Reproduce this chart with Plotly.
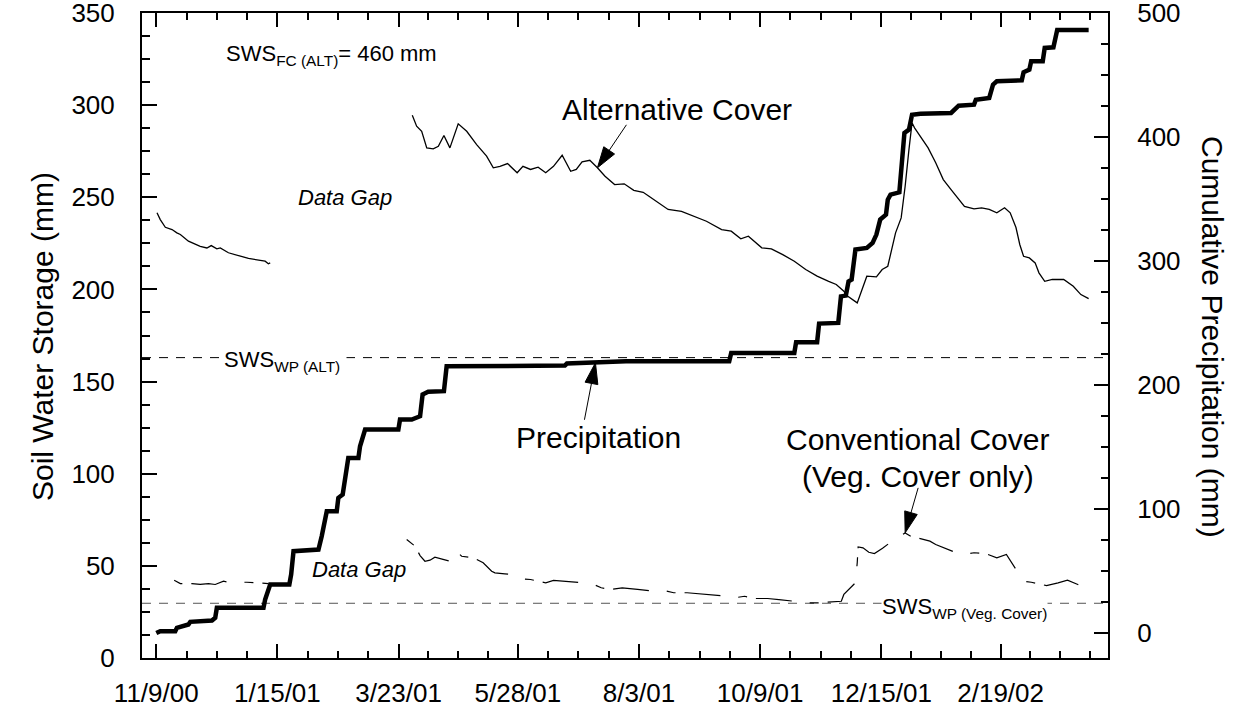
import math
import pandas as pd
import plotly.graph_objects as go

BASE = pd.Timestamp("2000-11-09")

# ---------------- data (days since 11/9/00) ----------------
alt_days = [0.4, 2.2, 5.0, 6.8, 8.7, 11.4, 13.3, 17.8, 22.5, 24.3, 28.0, 30.4, 33.5, 35.4, 39.9, 46.4, 51.0,
            57.5, 60.2, 62.0, 63.0, None,
            141.6, 144.0, 146.8, 149.6, 153.2, 156.0, 159.1, 162.4, 167.0, 171.7, 177.2, 182.7, 186.4, 190.1,
            194.3, 199.6, 202.8, 207.0, 211.2, 215.4, 219.7, 224.5, 229.2, 232.3, 235.5, 239.8, 244.0, 248.2,
            253.5, 258.8, 264.1, 269.3, 272.5, 276.7, 283.1, 290.5, 297.9, 304.3, 312.7, 318.0, 323.3, 327.5,
            334.9, 340.2, 346.5, 352.9, 359.2, 365.5, 371.9, 376.1, 380.3, 382.5, 387.7, 390.9, 393.0, 398.3,
            401.5, 404.6, 406.8, 408.9, 412.0, 414.2, 416.3, 418.0, 419.4, 422.7, 426.9, 431.1, 435.3, 439.6,
            443.8, 447.0, 452.3, 456.5, 460.7, 464.9, 469.2, 472.3, 475.5, 477.6, 479.7, 482.9, 486.1, 488.2,
            491.4, 495.6, 501.9, 507.2, 511.4, 515.7]
alt_sws = [241.6, 237.9, 233.7, 232.9, 232.5, 230.7, 229.8, 226.2, 224.4, 223.4, 222.5, 223.8, 222.0, 222.5,
           219.9, 218.0, 216.8, 215.8, 215.3, 213.9, 214.4, None,
           294.5, 288.6, 285.8, 276.8, 276.3, 277.7, 283.5, 276.8, 289.9, 285.8, 278.6, 272.3, 266.0, 266.8,
           268.3, 263.3, 266.8, 265.1, 266.3, 263.3, 266.8, 272.8, 264.1, 265.1, 269.2, 270.1, 266.0, 261.4,
           256.9, 257.3, 253.8, 252.7, 250.6, 247.9, 243.4, 242.4, 239.7, 237.0, 232.5, 231.6, 227.5, 228.9,
           222.6, 222.0, 218.9, 215.3, 210.8, 207.2, 204.4, 202.7, 199.0, 196.3, 192.7, 201.7, 207.2, 206.8,
           210.8, 212.6, 221.6, 230.7, 238.8, 256.0, 275.9, 290.4, 287.7, 283.1, 276.8, 268.7, 259.6, 254.2,
           248.8, 245.1, 243.7, 244.3, 243.4, 241.6, 244.3, 241.6, 233.6, 224.4, 218.0, 217.1, 214.4, 209.0,
           204.4, 205.4, 205.4, 201.7, 197.2, 195.0]

conv_days = [9.9, 13.3, 19.7, 24.3, 28.9, 32.6, 37.2, 39.9, 50.1, 62.0, None,
             138.5, 143.1, 145.9, 148.6, 151.4, 154.1, 158.6, 162.4, 166.1, 168.9, 175.3, 180.8, 185.5, 187.3,
             192.8, 197.5, 201.7, 207.0, 211.2, 215.4, 219.7, 226.0, 236.6, 241.9, 246.1, 251.4, 257.7, 266.2,
             275.7, 281.0, 286.2, 293.6, 305.3, 315.9, 320.1, 325.4, 330.7, 338.1, 344.4, 356.0, 361.3, 365.5,
             374.0, 378.9, 380.3, 383.4, 386.7, 387.7, 388.2, 390.9, 394.1, 397.2, 401.7, 405.7, 407.8, 409.9,
             414.2, 417.3, 422.7, 427.9, 431.1, 436.5, 441.7, 447.0, 452.3, 458.6, 464.9, 470.2, 473.5, 476.6,
             479.7, 484.0, 492.4, 498.8, 504.0, 509.4, 514.6, 515.7]
conv_sws = [42.2, 40.4, 40.4, 39.9, 40.4, 39.9, 41.7, 41.1, 41.1, 40.4, None,
            64.3, 60.7, 55.6, 52.5, 53.1, 54.7, 53.5, 52.5, 57.9, 55.2, 54.4, 51.7, 47.1, 46.2,
            45.7, 45.3, 43.0, 42.6, 41.7, 40.8, 42.1, 41.7, 40.8, 39.9, 38.1, 37.2, 38.1, 37.2,
            36.2, 36.6, 35.4, 35.4, 34.5, 33.5, 32.7, 33.5, 32.3, 32.3, 31.7, 30.3, 29.9, 29.9,
            30.3, 30.8, 34.5, 37.5, 40.8, 51.7, 60.3, 59.8, 57.4, 56.7, 59.5, 62.5, 64.3, 65.2,
            67.9, 66.1, 64.7, 63.4, 61.6, 59.5, 57.4, 56.2, 57.1, 56.7, 54.4, 56.2, 51.0, 46.2,
            41.7, 41.1, 39.3, 40.8, 42.2, 40.0, 38.1, 37.5]

precip_days = [0, 2.2, 10.5, 11.4, 17.8, 18.8, 30.8, 32.6, 33.5, 59.3, 60.2, 63.0, 73.6, 74.6, 75.9, 89.7,
               91.5, 94.3, 99.8, 100.7, 103.1, 105.4, 106.2, 111.8, 112.7, 115.5, 133.9, 134.8, 141.3, 145.9,
               147.3, 150.4, 159.1, 160.6, 198.5, 226.0, 227.1, 245.0, 259.8, 316.9, 318.0, 352.9, 353.9,
               365.5, 366.6, 377.2, 378.7, 381.4, 382.9, 384.6, 386.7, 393.0, 396.2, 398.3, 400.4, 403.6,
               404.6, 406.1, 411.0, 413.8, 416.3, 418.0, 422.7, 439.6, 441.7, 443.8, 452.3, 453.3, 460.7,
               462.8, 464.9, 478.7, 479.7, 482.9, 483.9, 490.3, 491.4, 496.2, 498.3, 515.7]
precip_mm = [0, 1.5, 1.5, 4.2, 6.9, 9.0, 10.1, 12.3, 20.3, 20.3, 27.0, 39.1, 39.1, 47.2, 66.0, 67.3,
             78.0, 98.2, 98.2, 109.0, 111.7, 131.8, 141.2, 141.2, 150.6, 164.1, 164.1, 172.1, 172.1, 174.8,
             192.3, 194.5, 195.0, 215.1, 215.1, 215.7, 217.3, 218.3, 219.1, 219.1, 225.9, 225.9, 234.5,
             234.5, 249.5, 250.1, 271.5, 272.1, 283.6, 285.0, 309.2, 310.5, 314.6, 321.3, 333.4, 337.4,
             349.5, 353.5, 355.4, 403.3, 405.9, 418.0, 418.8, 419.4, 422.6, 425.3, 426.1, 430.1, 431.5,
             442.2, 444.9, 445.7, 452.2, 454.3, 461.0, 461.0, 471.8, 472.3, 486.3, 486.3]

sws_wp_alt = 163.0
sws_wp_veg = 29.7

tick_labels = ["11/9/00", "1/15/01", "3/23/01", "5/28/01", "8/3/01", "10/9/01", "12/15/01", "2/19/02"]

# ---------------- helpers ----------------
def day_str(d):
    return (BASE + pd.Timedelta(days=d)).strftime("%Y-%m-%d %H:%M")

def to_dates(days):
    return [None if d is None else day_str(d) for d in days]

tick_dates = pd.to_datetime(tick_labels, format="%m/%d/%y")
minor_vals = []
for a, b in zip(tick_dates[:-1], tick_dates[1:]):
    for k in (1, 2, 3):
        minor_vals.append(a + (b - a) * k / 4)
step = (tick_dates[-1] - tick_dates[-2]) / 4
for k in (1, 2, 3):
    minor_vals.append(tick_dates[-1] + step * k)

FONT = "Liberation Sans, Arial, Helvetica, sans-serif"

L, R, T, B = 142, 138, 13, 54
W, H = 1246, 712
PW, PH = W - L - R, H - T - B

def px(x):
    return (x - L) / PW

def py(y):
    return (H - B - y) / PH

fig = go.Figure()

fig.add_trace(go.Scatter(x=to_dates(alt_days), y=alt_sws, mode="lines",
                         line=dict(color="black", width=1.3), connectgaps=False, name="Alternative Cover"))
fig.add_trace(go.Scatter(x=to_dates(conv_days), y=conv_sws, mode="lines",
                         line=dict(color="black", width=1.2, dash="9px,9px,36px,18px"),
                         connectgaps=False, name="Conventional Cover"))
fig.add_trace(go.Scatter(x=to_dates(precip_days), y=precip_mm, mode="lines", yaxis="y2",
                         line=dict(color="black", width=4.5), name="Precipitation"))

fig.add_shape(type="line", xref="paper", x0=0, x1=1, yref="y", y0=sws_wp_alt, y1=sws_wp_alt,
              line=dict(color="black", width=1, dash="9px,8px"), layer="below")
fig.add_shape(type="line", xref="paper", x0=0, x1=1, yref="y", y0=sws_wp_veg, y1=sws_wp_veg,
              line=dict(color="#555555", width=1, dash="9px,8px"), layer="below")

x_start = BASE - pd.Timedelta(days=7.9)
x_end = BASE + pd.Timedelta(days=526.4)

axis_common = dict(showline=True, linewidth=2, linecolor="black", showgrid=False, zeroline=False,
                   ticks="inside", tickwidth=2, tickcolor="black", tickfont=dict(size=26, family=FONT),
                   automargin=False, ticklabeloverflow="allow")

fig.update_layout(
    width=W, height=H, margin=dict(l=L, r=R, t=T, b=B, autoexpand=False),
    paper_bgcolor="white", plot_bgcolor="white", showlegend=False,
    font=dict(family=FONT, color="black", size=26),
    xaxis=dict(type="date", range=[x_start, x_end], tickmode="array", tickvals=list(tick_dates),
               ticktext=tick_labels, ticklen=14, mirror="ticks", ticklabelstandoff=11,
               minor=dict(tickmode="array", tickvals=minor_vals, ticks="inside", ticklen=7,
                          tickwidth=2, tickcolor="black"),
               **axis_common),
    yaxis=dict(range=[0, 350], tick0=0, dtick=50, ticklen=15, ticklabelstandoff=20,
               minor=dict(tick0=0, dtick=12.5, ticks="inside", ticklen=8, tickwidth=2, tickcolor="black"),
               **axis_common),
    yaxis2=dict(overlaying="y", side="right", range=[-20.16, 500], tick0=0, dtick=100, ticklen=14,
                ticklabelstandoff=22,
                minor=dict(tick0=0, dtick=25, ticks="inside", ticklen=7, tickwidth=2, tickcolor="black"),
                **axis_common),
)

ann = []
def text(x, y, s, size, xanchor="center", angle=0, bg=None):
    d = dict(x=px(x), y=py(y), xref="paper", yref="paper", text=s, showarrow=False,
             xanchor=xanchor, yanchor="middle", textangle=angle,
             font=dict(size=size, family=FONT, color="black"), borderpad=0)
    if bg:
        d["bgcolor"] = bg
    ann.append(d)

text(42, 337, "Soil Water Storage (mm)", 30, angle=-90)
text(1213, 337, "Cumulative Precipitation (mm)", 30, angle=90)
text(225, 55, "SWS<sub>FC (ALT)</sub>= 460 mm", 22, xanchor="left")
text(297, 198, "<i>Data Gap</i>", 22, xanchor="left")
text(311, 569, "<i>Data Gap</i>", 22, xanchor="left")
text(223, 361, "SWS<sub>WP (ALT)</sub> ", 22, xanchor="left", bg="white")
text(881, 608, "SWS<sub>WP (Veg. Cover)</sub>", 22, xanchor="left", bg="white")
text(677, 110, "Alternative Cover", 30)
text(598, 437, "Precipitation", 30)
text(917, 439, "Conventional Cover", 30)
text(918, 476, "(Veg. Cover only)", 30)
fig.update_layout(annotations=ann)

# arrows: thin line from the label plus a filled, slender arrowhead at the tip
HEAD_L, HEAD_W = 21, 13

def arrow(day, val, dx, dy):
    # dx, dy: screen offset (pixels, y down) from the tip to the tail
    xa, ya = day_str(day), val
    n = math.hypot(dx, dy)
    ux, uy = -dx / n, -dy / n            # direction tail -> tip (screen)
    bx, by = -HEAD_L * ux, -HEAD_L * uy  # base centre relative to tip
    nx, ny = -uy, ux
    c1 = (bx + nx * HEAD_W / 2, by + ny * HEAD_W / 2)
    c2 = (bx - nx * HEAD_W / 2, by - ny * HEAD_W / 2)
    common = dict(xref="x", yref="y", xsizemode="pixel", ysizemode="pixel", xanchor=xa, yanchor=ya)
    fig.add_shape(type="line", x0=dx, y0=-dy, x1=bx * 0.5, y1=-by * 0.5,
                  line=dict(color="black", width=1), **common)
    path = f"M 0,0 L {c1[0]:.2f},{-c1[1]:.2f} L {c2[0]:.2f},{-c2[1]:.2f} Z"
    fig.add_shape(type="path", path=path, fillcolor="black", line=dict(color="black", width=1), **common)

arrow(244.0, 266.0, 29, -43)
arrow(242.9, 160.2, -11, 57)
arrow(414.2, 67.9, 13, -45)

fig.write_html("out.html")
